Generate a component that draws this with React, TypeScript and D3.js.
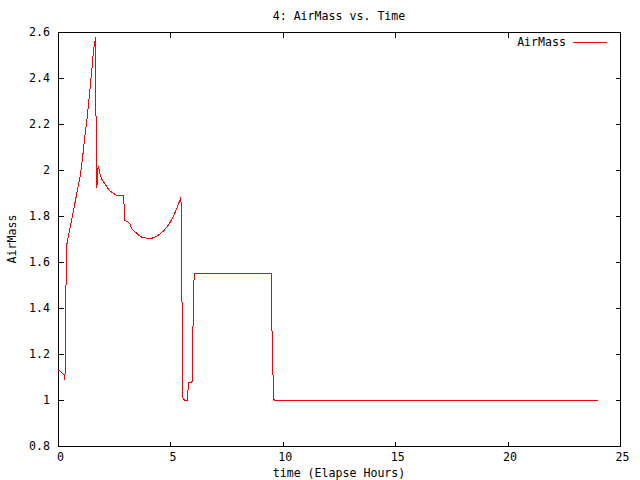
import React, { useEffect, useRef } from "react";
import * as d3 from "d3";

const hours = [
  0, 0.1, 0.2, 0.28, 0.31, 0.32, 0.36, 0.38, 0.42, 0.5, 0.6, 0.7, 0.8, 0.9, 1.0, 1.1, 1.2, 1.3, 1.4, 1.5,
  1.58, 1.63, 1.67, 1.7, 1.73, 1.76, 1.8, 1.85, 1.95, 2.05, 2.15, 2.3, 2.45, 2.6, 2.7, 2.9, 2.95, 2.98,
  3.1, 3.2, 3.28, 3.4, 3.5, 3.6, 3.75, 3.95, 4.2, 4.4, 4.55, 4.7, 4.85, 5.0, 5.13, 5.25, 5.35, 5.47,
  5.5, 5.53, 5.56, 5.62, 5.72, 5.76, 5.79, 5.82, 5.96, 5.99, 6.02, 6.06, 9.48, 9.5, 9.55, 9.61, 24.0,
];
const airMass = [
  1.13, 1.125, 1.115, 1.11, 1.085, 1.23, 1.52, 1.67, 1.69, 1.73, 1.78, 1.83, 1.88, 1.93, 1.98, 2.06, 2.15,
  2.23, 2.33, 2.43, 2.52, 2.55, 2.58, 2.09, 1.92, 2.0, 2.016, 1.99, 1.96, 1.945, 1.93, 1.91, 1.9, 1.89,
  1.888, 1.888, 1.84, 1.78, 1.775, 1.765, 1.745, 1.733, 1.726, 1.715, 1.707, 1.704, 1.704, 1.712, 1.723,
  1.736, 1.752, 1.775, 1.798, 1.825, 1.85, 1.88, 1.66, 1.23, 1.01, 1.0, 0.998, 1.0, 1.055, 1.074, 1.074,
  1.193, 1.43, 1.548, 1.548, 1.41, 1.142, 1.0, 1.0,
];
const xTicks = [0, 5, 10, 15, 20, 25];
const yTicks = [0.8, 1, 1.2, 1.4, 1.6, 1.8, 2, 2.2, 2.4, 2.6];
const title = "4: AirMass vs. Time";
const xLabel = "time (Elapse Hours)";
const yLabel = "AirMass";
const seriesName = "AirMass";

const W = 640;
const H = 480;
const left = 58;
const right = 620;
const top = 32;
const bottom = 446;
const FONT = "'DejaVu Sans Mono', 'Liberation Mono', monospace";

export default function App() {
  const ref = useRef<SVGSVGElement | null>(null);

  useEffect(() => {
    const svg = d3.select(ref.current);
    svg.selectAll("*").remove();
    const x = d3.scaleLinear().domain([0, 25]).range([left, right]);
    const y = d3.scaleLinear().domain([0.8, 2.6]).range([bottom, top]);
    const tl = 5;

    const g = svg.append("g").attr("font-family", FONT).attr("font-size", 11.6).attr("fill", "#000");

    // ticks (mirrored on all sides)
    const tg = g.append("g").attr("stroke", "#000").attr("stroke-width", 1).attr("shape-rendering", "crispEdges");
    xTicks.forEach((t) => {
      const px = Math.round(x(t)) + 0.5;
      tg.append("line").attr("x1", px).attr("x2", px).attr("y1", bottom + 0.5).attr("y2", bottom + 0.5 - tl);
      tg.append("line").attr("x1", px).attr("x2", px).attr("y1", top + 0.5).attr("y2", top + 0.5 + tl);
    });
    yTicks.forEach((t) => {
      const py = Math.round(y(t)) + 0.5;
      tg.append("line").attr("x1", left + 0.5).attr("x2", left + 0.5 + tl).attr("y1", py).attr("y2", py);
      tg.append("line").attr("x1", right + 0.5).attr("x2", right + 0.5 - tl).attr("y1", py).attr("y2", py);
    });

    // tick labels
    xTicks.forEach((t) => {
      g.append("text").attr("x", x(t) + 2.5).attr("y", 461).attr("text-anchor", "middle").text(d3.format("")(t));
    });
    yTicks.forEach((t) => {
      g.append("text")
        .attr("x", 50)
        .attr("y", y(t))
        .attr("dy", "0.35em")
        .attr("text-anchor", "end")
        .text(t === 1 || t === 2 ? String(t) : d3.format(".1f")(t));
    });

    // frame
    g.append("rect")
      .attr("x", left + 0.5)
      .attr("y", top + 0.5)
      .attr("width", right - left)
      .attr("height", bottom - top)
      .attr("fill", "none")
      .attr("stroke", "#000")
      .attr("shape-rendering", "crispEdges");

    // titles
    g.append("text").attr("x", (left + right) / 2).attr("y", 20).attr("text-anchor", "middle").text(title);
    g.append("text").attr("x", (left + right) / 2).attr("y", 477).attr("text-anchor", "middle").text(xLabel);
    g.append("text")
      .attr("transform", `translate(16,${(top + bottom) / 2}) rotate(-90)`)
      .attr("text-anchor", "middle")
      .text(yLabel);

    // legend
    g.append("text").attr("x", 566).attr("y", 42).attr("dy", "0.35em").attr("text-anchor", "end").text(seriesName);
    g.append("line")
      .attr("x1", 573)
      .attr("x2", 607)
      .attr("y1", 42.5)
      .attr("y2", 42.5)
      .attr("stroke", "#ff0000")
      .attr("shape-rendering", "crispEdges");

    // data line
    const data = hours.map((h, i) => [h, airMass[i]] as [number, number]);
    const line = d3
      .line<[number, number]>()
      .x((d) => x(d[0]))
      .y((d) => y(d[1]));
    g.append("path")
      .datum(data)
      .attr("d", line)
      .attr("fill", "none")
      .attr("stroke", "#ff0000")
      .attr("stroke-width", 1)
      .attr("shape-rendering", "crispEdges");
  }, []);

  return (
    <div style={{ position: "fixed", left: 0, top: 0, width: W, height: H, background: "#fff" }}>
      <svg ref={ref} width={W} height={H} style={{ display: "block" }} />
    </div>
  );
}
